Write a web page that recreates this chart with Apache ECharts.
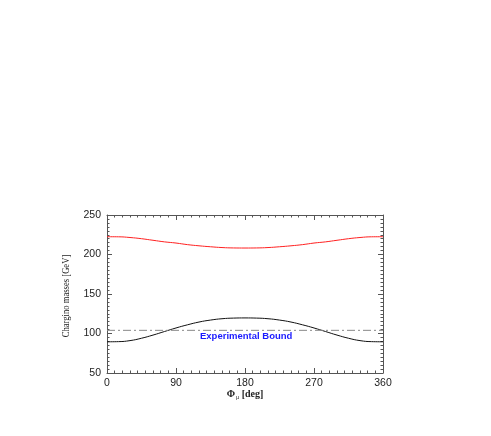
<!DOCTYPE html>
<html>
<head>
<meta charset="utf-8">
<script src="https://cdn.jsdelivr.net/npm/echarts@6/dist/echarts.min.js"></script>
<style>
  html, body { margin: 0; padding: 0; background: #fff; }
  #chart { width: 491px; height: 436px; }
</style>
</head>
<body>
<div id="chart"></div>
<script>
// phase angle (deg)
const phi = [0, 15, 30, 45, 60, 75, 90, 105, 120, 135, 150, 165, 180,
             195, 210, 225, 240, 255, 270, 285, 300, 315, 330, 345, 360]
// heavier chargino (red)
const heavy = [222.5, 222.4, 221.5, 220, 218, 216, 214.5, 212.5, 211, 209.8, 208.8, 208.3, 208.2,
               208.3, 208.8, 209.8, 211, 212.5, 214.5, 216, 218, 220, 221.5, 222.4, 222.5]
// lighter chargino (black)
const light = [89.5, 89.7, 91, 94, 98, 102.5, 107, 111, 114.5, 117, 118.7, 119.5, 119.7,
               119.5, 118.7, 117, 114.5, 111, 107, 102.5, 98, 94, 91, 89.7, 89.5]
// experimental bound
const boundX = [0, 360]
const boundY = [104, 104]

const chart = echarts.init(document.getElementById('chart'))

const axisCol = '#555'
const tickCommon = {
  axisLine: { show: true, onZero: false, lineStyle: { color: axisCol, width: 1 } },
  axisTick: { show: true, inside: true, length: 5, lineStyle: { color: axisCol } },
  minorTick: { show: true, length: 2.5, lineStyle: { color: axisCol } },
  splitLine: { show: false }
}

chart.setOption({
  animation: false,
  grid: { left: 107, top: 215, width: 276, height: 158 },
  graphic: [{
    type: 'text',
    left: 200, top: 331,
    style: {
      text: 'Experimental Bound',
      fill: '#1a1aff',
      font: 'bold 9.5px "Liberation Sans", Arial, sans-serif'
    }
  }, {
    // y axis title, narrow serif like the original
    type: 'text',
    x: 66, y: 296,
    rotation: Math.PI / 2,
    scaleX: 0.86,
    style: {
      text: 'Chargino masses [GeV]',
      fill: '#222',
      align: 'center',
      verticalAlign: 'middle',
      font: '10px "Liberation Serif", serif'
    }
  }],
  xAxis: [{
    type: 'value', min: 0, max: 360, interval: 90,
    ...tickCommon,
    minorTick: { ...tickCommon.minorTick, splitNumber: 9 },
    axisLabel: { color: '#222', fontSize: 10.5, fontFamily: 'Liberation Sans', margin: 5 },
    name: '{a|Φ}{b|μ}{a| [deg]}',
    nameLocation: 'middle',
    nameGap: 15,
    nameTextStyle: {
      rich: {
        a: { fontFamily: 'Liberation Serif', fontWeight: 'bold', fontSize: 10, color: '#222' },
        b: { fontFamily: 'Liberation Serif', fontSize: 6, color: '#222', padding: [6, 0, 0, 1] }
      }
    }
  }, {
    type: 'value', min: 0, max: 360, interval: 90, position: 'top',
    ...tickCommon,
    minorTick: { ...tickCommon.minorTick, splitNumber: 9 },
    axisLabel: { show: false }
  }],
  yAxis: [{
    type: 'value', min: 50, max: 250, interval: 50,
    ...tickCommon,
    minorTick: { ...tickCommon.minorTick, splitNumber: 10 },
    axisLabel: { color: '#222', fontSize: 10.5, fontFamily: 'Liberation Sans', margin: 6 }
  }, {
    type: 'value', min: 50, max: 250, interval: 50, position: 'right',
    ...tickCommon,
    minorTick: { ...tickCommon.minorTick, splitNumber: 10 },
    axisLabel: { show: false }
  }],
  series: [{
    type: 'line', showSymbol: false, smooth: true,
    data: phi.map((x, i) => [x, heavy[i]]),
    lineStyle: { color: '#ff2020', width: 1 }
  }, {
    type: 'line', showSymbol: false, smooth: true,
    data: phi.map((x, i) => [x, light[i]]),
    lineStyle: { color: '#111', width: 1 }
  }, {
    type: 'line', showSymbol: false,
    data: boundX.map((x, i) => [x, boundY[i]]),
    lineStyle: { color: '#888', width: 1, type: [8, 3, 2, 3] }
  }]
})
</script>
</body>
</html>
